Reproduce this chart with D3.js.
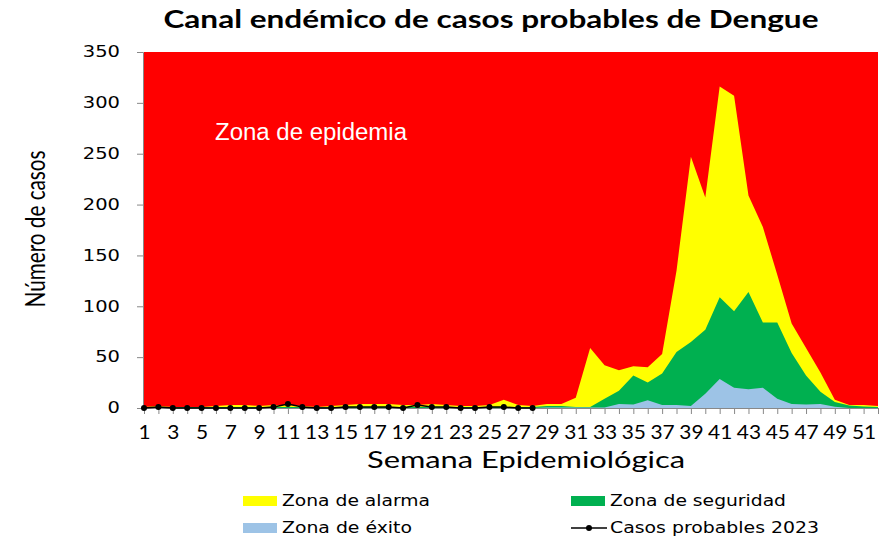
<!DOCTYPE html>
<html>
<head>
<meta charset="utf-8">
<script src="https://cdn.jsdelivr.net/npm/d3@7"></script>
<style>
  body { margin: 0; background: #fff; }
  svg { display: block; }
</style>
</head>
<body>
<div id="chart"></div>
<script>
// Epidemiological weeks
const weeks = d3.range(1, 53);

// Upper limit of each zone (cases)
const zonaAlarma = [1, 2, 1, 1, 1, 2, 3, 3, 2, 3, 3, 2, 1, 2, 3, 4, 4, 4, 3, 3,
  4, 3, 2, 2, 3, 8, 3, 2, 4, 4, 10, 59, 42, 37, 41, 40, 53, 135, 247, 207,
  316, 307, 209, 178, 131, 83, 59, 35, 8, 3, 3, 2];
const zonaSeguridad = [1, 1, 1, 1, 1, 1, 1, 1, 1, 1, 1, 1, 1, 1, 1, 1, 1, 1, 1, 1,
  1, 1, 1, 1, 1, 1, 1, 1, 2, 2, 1, 1, 9, 17, 32, 25, 34, 55, 65, 77,
  109, 95, 114, 84, 84, 54, 32, 16, 6, 2.5, 1.5, 1];
const zonaExito = [0, 0, 0, 0, 0, 0, 0, 0, 0, 0, 0, 0, 0, 0, 0, 0, 0, 0, 0, 0,
  0, 0, 0, 0, 0, 0, 0, 0, 0.5, 0.5, 0.5, 0.5, 0.5, 4, 3.5, 7.5, 3, 3, 2, 14,
  28.5, 20, 18.5, 20, 9, 4, 3.5, 4, 1.3, 0, 0, 0];
// Cases 2023, weeks 1 to 28
const casos2023 = [0, 1, 0, 0, 0, 0, 0, 0, 0, 1, 4, 1, 0, 0, 1, 1, 1, 1, 0, 3,
  1, 1, 0, 0, 1, 1, 0, 0];

const yTicks = [0, 50, 100, 150, 200, 250, 300, 350];
const yMax = 350;

const W = 892, H = 539;
const svg = d3.select('#chart').append('svg')
    .attr('width', W)
    .attr('height', H);

const x = d3.scaleLinear().domain([1, 52]).range([144, 878]);
const y = d3.scaleLinear().domain([0, yMax]).range([408, 52]);

// stretch text horizontally like the original (it was widened)
function fit(sel, width) {
  sel.each(function () {
    d3.select(this).attr('textLength', width).attr('lengthAdjust', 'spacingAndGlyphs');
  });
}
function stretch(sel, k) {
  sel.each(function () {
    const w = this.getComputedTextLength();
    d3.select(this).attr('textLength', w * k).attr('lengthAdjust', 'spacingAndGlyphs');
  });
}

// zones
function zoneArea(values) {
  return d3.area()
    .x((d, i) => x(weeks[i]))
    .y0(y(0))
    .y1(d => y(d))(values);
}

svg.append('path')
    .attr('d', zoneArea(weeks.map(() => yMax)))
    .attr('fill', '#ff0000');
svg.append('path')
    .attr('d', zoneArea(zonaAlarma))
    .attr('fill', '#ffff00');
svg.append('path')
    .attr('d', zoneArea(zonaSeguridad))
    .attr('fill', '#00b050');
svg.append('path')
    .attr('d', zoneArea(zonaExito))
    .attr('fill', '#9dc3e6');

// Y axis
const yAxis = svg.append('g')
    .attr('transform', 'translate(143,0)')
    .call(d3.axisLeft(y).tickValues(yTicks).tickSize(6).tickPadding(17));
yAxis.select('.domain').attr('stroke', '#888');
yAxis.selectAll('.tick line').attr('stroke', '#888');
yAxis.selectAll('.tick text')
    .attr('font-family', 'DejaVu Sans, Verdana, sans-serif')
    .attr('font-size', 15)
    .attr('fill', '#000')
    .call(stretch, 1.3);

// X axis
const xAxis = svg.append('g')
    .attr('transform', 'translate(0,408)')
    .call(d3.axisBottom(x).tickValues(weeks).tickSize(6)
      .tickFormat(d => d % 2 === 1 ? d : ''));
xAxis.select('.domain').attr('stroke', '#888');
xAxis.selectAll('.tick line').attr('stroke', '#888');
xAxis.selectAll('.tick text')
    .attr('font-family', 'Lato, sans-serif')
    .attr('font-size', 19)
    .attr('fill', '#000')
    .attr('y', 24)
    .attr('dy', '0.35em')
    .call(stretch, 1.1);

// line for 2023
svg.append('path')
    .datum(casos2023)
    .attr('fill', 'none')
    .attr('stroke', '#000')
    .attr('stroke-width', 1.5)
    .attr('d', d3.line().x((d, i) => x(weeks[i])).y(d => y(d)));
svg.append('g')
  .selectAll('circle')
    .data(casos2023)
  .join('circle')
    .attr('cx', (d, i) => x(weeks[i]))
    .attr('cy', d => y(d))
    .attr('r', 3)
    .attr('fill', '#000');

// texts
svg.append('text')
    .attr('x', 491)
    .attr('y', 28)
    .attr('text-anchor', 'middle')
    .attr('font-family', 'Lato, sans-serif')
    .attr('font-weight', 'bold')
    .attr('font-size', 24)
    .text('Canal endémico de casos probables de Dengue')
    .call(fit, 655);

svg.append('text')
    .attr('x', 215)
    .attr('y', 140)
    .attr('font-family', 'Liberation Sans, Arial, sans-serif')
    .attr('font-size', 23)
    .attr('fill', '#fff')
    .text('Zona de epidemia')
    .call(fit, 192);

svg.append('text')
    .attr('transform', 'translate(45,229) rotate(-90) scale(1,1.3)')
    .attr('text-anchor', 'middle')
    .attr('font-family', 'Lato, sans-serif')
    .attr('font-size', 21)
    .text('Número de casos')
    .call(fit, 157);

svg.append('text')
    .attr('x', 526)
    .attr('y', 468)
    .attr('text-anchor', 'middle')
    .attr('font-family', 'Lato, sans-serif')
    .attr('font-size', 24)
    .text('Semana Epidemiológica')
    .call(fit, 318);

// legend
const legend = [
  {label: 'Zona de alarma', color: '#ffff00', x: 243, y: 501, w: 148},
  {label: 'Zona de seguridad', color: '#00b050', x: 571, y: 501, w: 176},
  {label: 'Zona de éxito', color: '#9dc3e6', x: 243, y: 528, w: 130},
  {label: 'Casos probables 2023', color: null, x: 571, y: 528, w: 209}
];
const lg = svg.append('g')
  .selectAll('g')
    .data(legend)
  .join('g')
    .attr('transform', d => 'translate(' + d.x + ',' + d.y + ')');
lg.filter(d => d.color)
  .append('rect')
    .attr('x', 0)
    .attr('y', -5)
    .attr('width', 34)
    .attr('height', 10)
    .attr('fill', d => d.color);
const lineItem = lg.filter(d => !d.color);
lineItem.append('line')
    .attr('x1', 0).attr('x2', 36)
    .attr('stroke', '#000').attr('stroke-width', 1.5);
lineItem.append('circle')
    .attr('cx', 18).attr('r', 3).attr('fill', '#000');
lg.append('text')
    .attr('x', 39)
    .attr('dy', '0.35em')
    .attr('font-family', 'DejaVu Sans, Verdana, sans-serif')
    .attr('font-size', 15)
    .text(d => d.label)
    .each(function (d) { d3.select(this).call(fit, d.w); });
</script>
</body>
</html>
